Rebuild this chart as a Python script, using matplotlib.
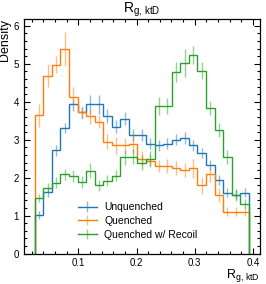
import numpy as np
import matplotlib
matplotlib.use('Agg')
import matplotlib.pyplot as plt
from matplotlib.lines import Line2D
from matplotlib.ticker import MultipleLocator

plt.rcParams['font.family'] = ['Liberation Sans', 'DejaVu Sans']
plt.rcParams['mathtext.fontset'] = 'custom'
plt.rcParams['mathtext.rm'] = 'Liberation Sans'
plt.rcParams['mathtext.it'] = 'Liberation Sans'

# bin edges of the Rg histogram
edges = np.linspace(0.025, 0.393, 26)

unquenched = [1.01, 1.62, 2.72, 3.30, 3.93, 3.72, 3.93, 3.93, 3.63, 3.34, 3.55, 3.12, 3.12,
              2.90, 2.85, 2.90, 3.00, 3.05, 2.85, 2.65, 2.33, 1.95, 1.60, 1.55, 1.60]
unquenched_err = [0.10, 0.12, 0.15, 0.13, 0.18, 0.15, 0.25, 0.25, 0.18, 0.17, 0.17, 0.15, 0.15,
                  0.15, 0.14, 0.14, 0.15, 0.15, 0.14, 0.14, 0.14, 0.13, 0.12, 0.12, 0.12]
quenched = [3.64, 4.69, 4.98, 5.39, 4.13, 3.72, 3.62, 3.48, 2.95, 2.85, 2.85, 2.90, 2.50,
            2.45, 2.30, 2.30, 2.25, 2.20, 2.25, 1.80, 2.10, 1.54, 1.10, 1.10, 1.10]
quenched_err = [0.30, 0.30, 0.22, 0.45, 0.25, 0.18, 0.20, 0.18, 0.20, 0.22, 0.20, 0.25, 0.20,
                0.18, 0.16, 0.18, 0.18, 0.18, 0.25, 0.22, 0.22, 0.18, 0.12, 0.12, 0.12]
recoil = [1.47, 1.74, 1.87, 2.09, 2.05, 1.89, 2.18, 1.80, 1.92, 2.05, 2.54, 2.55, 2.40,
          2.50, 3.89, 3.89, 4.79, 5.01, 5.23, 4.82, 3.83, 3.26, 2.54, 1.54, 1.32]
recoil_err = [0.10, 0.12, 0.14, 0.14, 0.16, 0.16, 0.20, 0.14, 0.15, 0.15, 0.20, 0.20, 0.20,
              0.20, 0.24, 0.20, 0.26, 0.37, 0.24, 0.22, 0.18, 0.18, 0.18, 0.15, 0.13]

labels = ['Unquenched', 'Quenched', 'Quenched w/ Recoil']
colors = ['#1f77b4', '#ff7f0e', '#2ca02c']

fig = plt.figure(figsize=(2.66, 2.84), dpi=100)
ax = fig.add_axes([0.090, 0.107, 0.886, 0.826])

centers = 0.5 * (edges[1:] + edges[:-1])
handles = []
for vals, errs, lab, col in zip([unquenched, quenched, recoil],
                                [unquenched_err, quenched_err, recoil_err],
                                labels, colors):
    ax.stairs(vals, edges, color=col, linewidth=1.0)
    eb = ax.errorbar(centers, vals, yerr=errs, fmt='none', ecolor=col, elinewidth=1.0, alpha=0.5)
    ln = Line2D([], [], color=col, linewidth=1.0)
    handles.append((ln, eb))

ax.set_xlim(0.0066, 0.4114)
ax.set_ylim(0, 6.18)

ax.xaxis.set_major_locator(MultipleLocator(0.1))
ax.xaxis.set_minor_locator(MultipleLocator(0.02))
ax.yaxis.set_major_locator(MultipleLocator(1))
ax.yaxis.set_minor_locator(MultipleLocator(0.2))
ax.tick_params(which='both', direction='in', top=True, right=True, labelsize=7, width=0.8)
ax.tick_params(which='major', length=4)
ax.tick_params(which='minor', length=2)
for s in ax.spines.values():
    s.set_linewidth(0.9)

ax.set_title(r'$\mathrm{R}_{\mathrm{g,\,ktD}}$', fontsize=10, pad=3)
ax.set_ylabel('Density', fontsize=9, loc='top', labelpad=2)
ax.set_xlabel(r'$\mathrm{R}_{\mathrm{g,\,ktD}}$', fontsize=9, loc='right', labelpad=-1)

ax.legend(handles, labels, loc='lower left', bbox_to_anchor=(0.19, 0.02), frameon=False,
          fontsize=7.5, handlelength=1.8, handletextpad=0.7, labelspacing=0.35)

fig.savefig('out.png', dpi=100)
